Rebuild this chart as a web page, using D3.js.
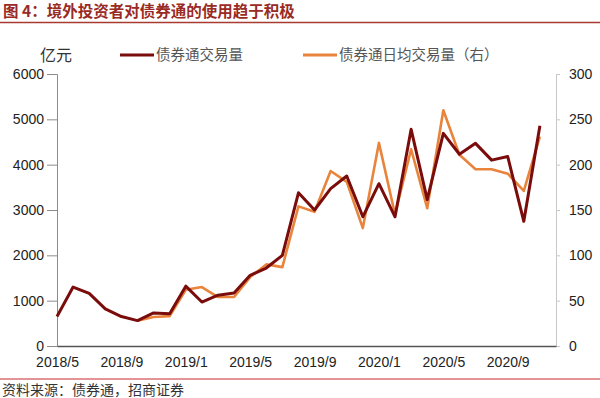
<!DOCTYPE html>
<html>
<head>
<meta charset="utf-8">
<script src="https://cdn.jsdelivr.net/npm/d3@7"></script>
<style>
    body { margin: 0; background: #fff; }
    svg text { font-family: "Liberation Sans", Arial, sans-serif; }
    .cjk { font-family: "Noto Sans CJK SC", sans-serif; }
</style>
</head>
<body>
<div id="chart"></div>
<script>
// months on the category axis (last slot has no data)
const months = ["2018/5", "2018/6", "2018/7", "2018/8", "2018/9", "2018/10", "2018/11", "2018/12",
    "2019/1", "2019/2", "2019/3", "2019/4", "2019/5", "2019/6", "2019/7", "2019/8", "2019/9",
    "2019/10", "2019/11", "2019/12", "2020/1", "2020/2", "2020/3", "2020/4", "2020/5", "2020/6",
    "2020/7", "2020/8", "2020/9", "2020/10", "2020/11", "2020/12"];

// 债券通交易量 (亿元, left axis)
const volume = [650, 1300, 1160, 820, 650, 560, 730, 710, 1320, 970, 1120, 1170, 1560, 1720, 2000,
    3380, 3000, 3470, 3750, 2850, 3580, 2850, 4780, 3230, 4690, 4230, 4470, 4100, 4180, 2750, 4860, null];

// 债券通日均交易量 (亿元, right axis)
const dailyAvg = [null, null, null, null, null, 28, 32, 33, 62, 65, 54, 54, 76, 90, 87,
    154, 148, 193, 181, 130, 224, 145, 217, 152, 260, 211, 195, 195, 190, 171, 231, null];

const tickLabels = ["2018/5", "2018/9", "2019/1", "2019/5", "2019/9", "2020/1", "2020/5", "2020/9"];
const leftTicks = [0, 1000, 2000, 3000, 4000, 5000, 6000];
const rightTicks = [0, 50, 100, 150, 200, 250, 300];

const W = 600, H = 398;
const margin = {top: 74, right: 44, bottom: 52, left: 57};
const width = W - margin.left - margin.right;
const height = H - margin.top - margin.bottom;

const svg = d3.select("#chart").append("svg")
    .attr("width", W)
    .attr("height", H);

// title + rules
svg.append("text")
    .attr("class", "cjk")
    .attr("x", 3).attr("y", 17)
    .attr("font-size", 15.5).attr("font-weight", "bold")
    .attr("fill", "#9a2a24")
    .text("图 4：境外投资者对债券通的使用趋于积极");

svg.append("line")
    .attr("x1", 0).attr("x2", W).attr("y1", 22.5).attr("y2", 22.5)
    .attr("stroke", "#a83a30").attr("stroke-width", 1.3);

svg.append("line")
    .attr("x1", 0).attr("x2", W).attr("y1", 379).attr("y2", 379)
    .attr("stroke", "#c8282d").attr("stroke-width", 1);

svg.append("text")
    .attr("class", "cjk")
    .attr("x", 2).attr("y", 395)
    .attr("font-size", 14)
    .attr("fill", "#333")
    .text("资料来源：债券通，招商证券");

const g = svg.append("g")
    .attr("transform", `translate(${margin.left}, ${margin.top})`);

const x = d3.scalePoint().domain(months).range([0, width]);
const yL = d3.scaleLinear().domain([0, 6000]).range([height, 0]);
const yR = d3.scaleLinear().domain([0, 300]).range([height, 0]);

// left axis
const axL = g.append("g")
    .call(d3.axisLeft(yL).tickValues(leftTicks).tickSize(10).tickPadding(3).tickFormat(d3.format("d")));
axL.select(".domain").attr("stroke", "#8c8c8c");
axL.selectAll(".tick line").attr("stroke", "#8c8c8c");
axL.selectAll("text").attr("font-size", 14).attr("fill", "#222")
    .attr("font-family", "Liberation Sans, Arial, sans-serif");

// right axis
const axR = g.append("g")
    .attr("transform", `translate(${width}, 0)`)
    .call(d3.axisRight(yR).tickValues(rightTicks).tickSize(4).tickPadding(9));
axR.select(".domain").attr("stroke", "#c8c8c8");
axR.selectAll(".tick line").attr("stroke", "#c8c8c8");
axR.selectAll("text").attr("font-size", 14).attr("fill", "#222")
    .attr("font-family", "Liberation Sans, Arial, sans-serif");

// bottom axis
const axB = g.append("g")
    .attr("transform", `translate(0, ${height})`)
    .call(d3.axisBottom(x).tickValues(tickLabels).tickSize(0).tickPadding(11));
axB.select(".domain").attr("stroke", "#555").attr("stroke-width", 1.5);
axB.selectAll("text").attr("font-size", 14).attr("fill", "#222")
    .attr("font-family", "Liberation Sans, Arial, sans-serif");

// lines
const lineL = d3.line()
    .defined(d => d.v != null)
    .x(d => x(d.m))
    .y(d => yL(d.v));
const lineR = d3.line()
    .defined(d => d.v != null)
    .x(d => x(d.m))
    .y(d => yR(d.v));

g.append("path")
    .datum(months.map((m, i) => ({m: m, v: dailyAvg[i]})))
    .attr("fill", "none")
    .attr("stroke", "#e8843c")
    .attr("stroke-width", 2.6)
    .attr("stroke-linejoin", "round")
    .attr("d", lineR);

g.append("path")
    .datum(months.map((m, i) => ({m: m, v: volume[i]})))
    .attr("fill", "none")
    .attr("stroke", "#7a0c0c")
    .attr("stroke-width", 3)
    .attr("stroke-linejoin", "round")
    .attr("d", lineL);

// legend
svg.append("text")
    .attr("class", "cjk")
    .attr("x", 40).attr("y", 61)
    .attr("font-size", 16).attr("fill", "#333")
    .text("亿元");

const legend = [
    {name: "债券通交易量", color: "#7a0c0c", x: 120},
    {name: "债券通日均交易量（右）", color: "#e8843c", x: 303}
];
const lg = svg.append("g").selectAll("g").data(legend).join("g")
    .attr("transform", d => `translate(${d.x}, 55)`);
lg.append("line")
    .attr("x1", 0).attr("x2", 34)
    .attr("stroke", d => d.color).attr("stroke-width", 3);
lg.append("text")
    .attr("class", "cjk")
    .attr("x", 36).attr("y", 5)
    .attr("font-size", 14.5).attr("fill", "#555")
    .text(d => d.name);
</script>
</body>
</html>
